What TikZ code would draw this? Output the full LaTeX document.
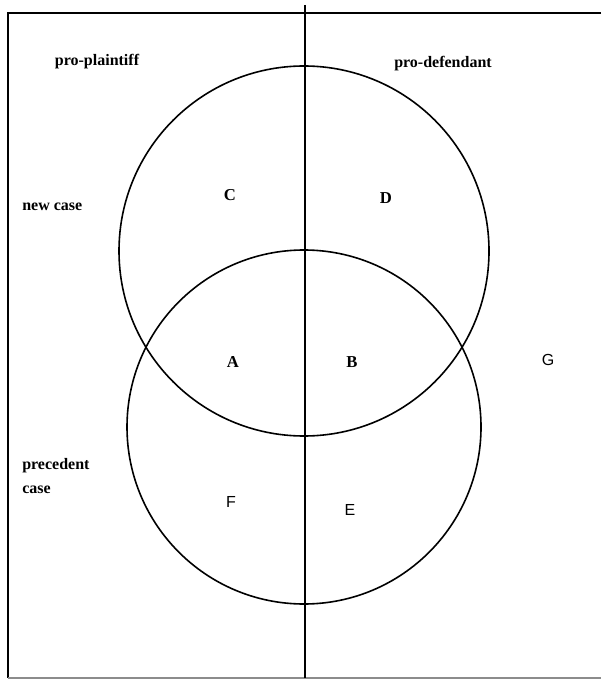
\documentclass[tikz,border=0pt]{standalone}
\usepackage{fontspec}
\setmainfont{Liberation Serif}
\newfontfamily\lettersans{Liberation Sans}
\begin{document}
\begin{tikzpicture}[x=0.75pt,y=-0.75pt,
  frameline/.style={line width=1.3pt,black},
  ring/.style={circle,draw,line width=1.2pt,inner sep=0pt},
  lbl/.style={font=\fontsize{12}{14}\selectfont\bfseries,inner sep=0pt},
  sletter/.style={font=\lettersans\fontsize{12}{14}\selectfont,inner sep=0pt},
  sletterb/.style={font=\fontsize{12.5}{14}\selectfont\bfseries,inner sep=0pt}]
\useasboundingbox (0,0) rectangle (601,680);
% frame
\coordinate (tl) at (8,13);
\coordinate (tr) at (601,13);
\coordinate (bl) at (8,678);
\coordinate (br) at (601,678);
\coordinate (vt) at (305,5);
\coordinate (vb) at (305,678);
\draw[frameline] (tr) -- (tl) -- (bl);
\draw[line width=0.8pt,black!45] (bl) -- (br);
\draw[frameline] (vt) -- (vb);
% circles
\node[ring,minimum size=277.5pt] (newc) at (304,251) {};
\node[ring,minimum size=265.5pt] (prec) at (304,427) {};
% labels
\node[lbl] (pp) at (97,62) {pro-plaintiff};
\node[lbl] (pd) at (443,64) {pro-defendant};
\node[lbl,anchor=west] (nc) at (22,207) {new case};
\node[lbl,anchor=west] (pc1) at (22,466) {precedent};
\node[lbl,anchor=west] (pc2) at (22,490) {case};
\node[sletterb] (C) at (230,195) {C};
\node[sletterb] (D) at (386,198) {D};
\node[sletterb] (A) at (233,362) {A};
\node[sletterb] (B) at (352,362) {B};
\node[sletter] (G) at (548,360) {G};
\node[sletter] (F) at (231,502) {F};
\node[sletter] (E) at (350,510) {E};
\end{tikzpicture}
\end{document}
